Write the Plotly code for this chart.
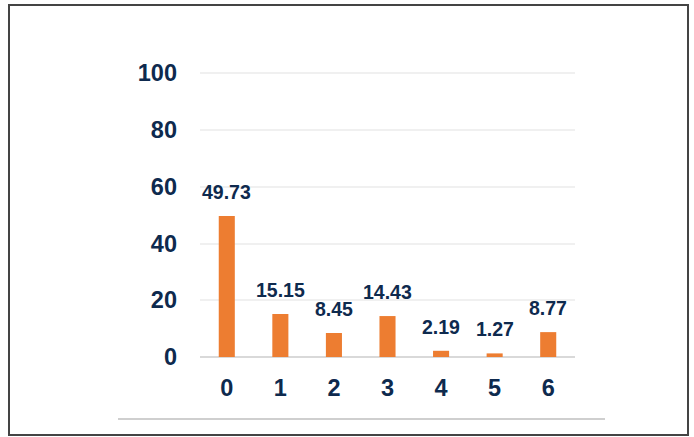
import plotly.graph_objects as go

categories = ["0", "1", "2", "3", "4", "5", "6"]
values = [49.73, 15.15, 8.45, 14.43, 2.19, 1.27, 8.77]
labels = ["49.73", "15.15", "8.45", "14.43", "2.19", "1.27", "8.77"]
y_ticks = [0, 20, 40, 60, 80, 100]

W, H = 694, 437
L, R, T, B = 200, 575, 69, 357  # plot area in pixels
Y_MAX = 101.5

def px(x):
    return (x - L) / (R - L)

def py(y):
    return (B - y) / (B - T)

navy = "#0e2a4e"
orange = "#ed7d31"

fig = go.Figure()
fig.add_trace(go.Bar(
    x=categories, y=values, marker_color=orange, width=0.3,
    marker_line_width=0,
))

annotations = []
for c, v, t in zip(categories, values, labels):
    annotations.append(dict(
        x=c, y=v, text=t, showarrow=False, yanchor="bottom", yshift=11,
        font=dict(family="Liberation Sans, Arial", size=19.5, color=navy, weight="bold"),
    ))

shapes = [
    dict(type="rect", xref="paper", yref="paper",
         x0=px(9), x1=px(688), y0=py(435), y1=py(5),
         line=dict(color="#444444", width=2), layer="below"),
    dict(type="line", xref="paper", yref="paper",
         x0=px(118), x1=px(605), y0=py(419), y1=py(419),
         line=dict(color="#bfbfbf", width=1.5)),
]

fig.update_layout(
    width=W, height=H,
    margin=dict(l=L, r=W - R, t=T, b=H - B, pad=0),
    paper_bgcolor="white", plot_bgcolor="white",
    showlegend=False,
    annotations=annotations, shapes=shapes,
    font=dict(family="Liberation Sans, Arial", color=navy),
)
fig.update_yaxes(
    range=[0, Y_MAX], tickvals=y_ticks, showgrid=True, gridcolor="#f0f0f0", gridwidth=1.5,
    zeroline=True, zerolinecolor="#d9d9d9", zerolinewidth=2,
    tickfont=dict(size=23.5, color=navy, weight="bold"), ticklabelstandoff=22,
    showline=False, ticks="",
)
fig.update_xaxes(
    showgrid=False, tickfont=dict(size=23.5, color=navy, weight="bold"),
    ticklabelstandoff=14, ticks="", showline=False,
)

fig.write_html("out.html")
